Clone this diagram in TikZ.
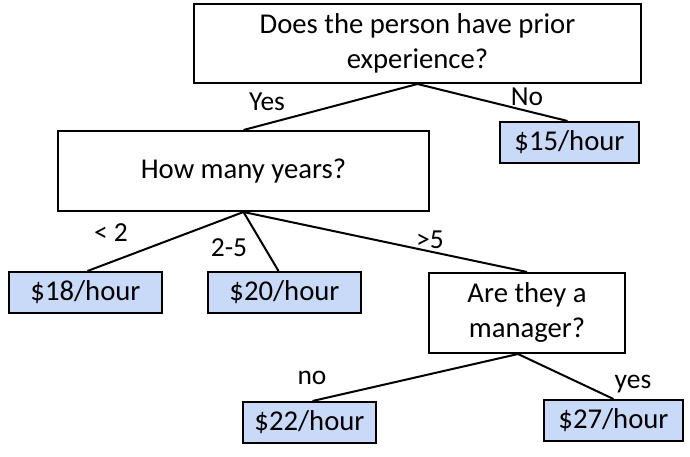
\documentclass[tikz,border=0pt]{standalone}
\usepackage{fontspec}
\setmainfont{Carlito}
\definecolor{leafblue}{RGB}{201,218,248}
\begin{document}
\begin{tikzpicture}[x=1pt,y=-1pt,
  box/.style={draw=black,line width=2pt,fill=white,inner sep=0pt,align=center,font=\fontsize{28.7}{35}\selectfont},
  leaf/.style={box,fill=leafblue},
  lbl/.style={font=\fontsize{27.5}{30}\selectfont,inner sep=0pt},
  edge/.style={line width=2pt}]
\useasboundingbox (0,0) rectangle (690,457);
\node[box,minimum width=447pt,minimum height=79pt] (q1) at (417.5,43.5) {Does the person have prior\\experience?};
\node[box,minimum width=371pt,minimum height=80pt] (q2) at (243.5,171) {How many years?};
\node[leaf,minimum width=139pt,minimum height=41pt] (l15) at (569.5,142.5) {\$15/hour};
\node[leaf,minimum width=153pt,minimum height=41pt] (l18) at (85.5,292.5) {\$18/hour};
\node[leaf,minimum width=153pt,minimum height=41pt] (l20) at (284.5,292.5) {\$20/hour};
\node[box,minimum width=196pt,minimum height=80pt] (q3) at (527,313) {Are they a\\manager?};
\node[leaf,minimum width=133pt,minimum height=41pt] (l22) at (309.5,422.5) {\$22/hour};
\node[leaf,minimum width=139pt,minimum height=41pt] (l27) at (613.5,420.5) {\$27/hour};
\draw[edge] (q1.south) -- (q2.north);
\draw[edge] (q1.south) -- ([xshift=-2pt]l15.north);
\draw[edge] (q2.south) -- ([xshift=2pt]l18.north);
\draw[edge] (q2.south) -- ([xshift=-6pt]l20.north);
\draw[edge] (q2.south) -- (q3.north);
\draw[edge] ([xshift=-9pt]q3.south) -- ([xshift=3pt]l22.north);
\draw[edge] ([xshift=-9pt]q3.south) -- (l27.north);
\node[lbl] (tyes) at (267,102) {Yes};
\node[lbl] (tno) at (527,97) {No};
\node[lbl] (tlt2) at (111,233) {< 2};
\node[lbl] (t25) at (229,248) {2-5};
\node[lbl] (tgt5) at (430,240) {>5};
\node[lbl] (tno2) at (312,378) {no};
\node[lbl] (tyes2) at (633,384) {yes};
\end{tikzpicture}
\end{document}
